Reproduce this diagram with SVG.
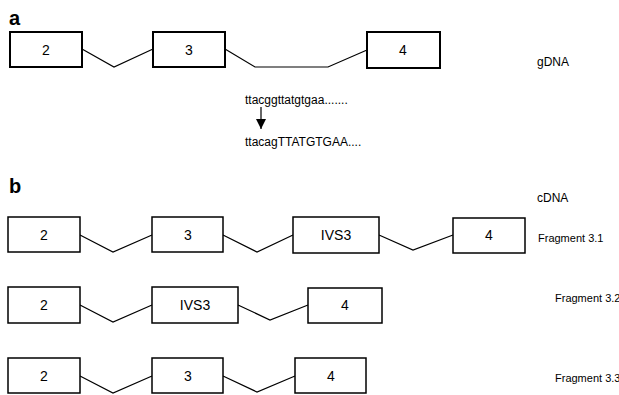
<svg xmlns="http://www.w3.org/2000/svg" width="619" height="395" viewBox="0 0 619 395">
<style>
.box{fill:#fff;stroke:#000;stroke-width:1.5}
.gbox{fill:#fff;stroke:#000;stroke-width:2}
.lbl{font-family:"Liberation Sans",Arial,sans-serif;font-size:14px;text-anchor:middle;fill:#000}
.sm{font-family:"Liberation Sans",Arial,sans-serif;font-size:11px;fill:#000}
.sq{font-family:"Liberation Sans",Arial,sans-serif;font-size:12px;fill:#000}
.pl{font-family:"Liberation Sans",Arial,sans-serif;font-size:20px;font-weight:bold;fill:#000}
.ln{fill:none;stroke:#000;stroke-width:1.2}
</style>
<defs>
<marker id="ah" markerWidth="10" markerHeight="10" refX="10" refY="5" orient="auto" markerUnits="userSpaceOnUse" viewBox="0 0 10 10">
<path d="M0,0 L10,5 L0,10 Z" fill="#000"/>
</marker>
</defs>
<rect width="619" height="395" fill="#fff"/>
<text class="pl" x="9" y="25">a</text>
<text class="pl" x="9" y="193">b</text>
<text class="sq" x="537" y="66">gDNA</text>
<text class="sq" x="537" y="202">cDNA</text>
<text class="sm" x="538" y="242">Fragment 3.1</text>
<text class="sm" x="555" y="302" font-size="10.5">Fragment 3.2</text>
<text class="sm" x="555" y="382" font-size="10.5">Fragment 3.3</text>
<text class="sq" x="245" y="104">ttacggttatgtgaa.......</text>
<text class="sq" x="245" y="146">ttacagTTATGTGAA....</text>
<g id="connectors">
<polyline class="ln" points="82,49 114,67 153,49"/>
<polyline class="ln" points="225,49 255,67 328,67 367,50"/>
<line class="ln" x1="261" y1="107" x2="261" y2="129" marker-end="url(#ah)"/>
<polyline class="ln" points="80,235 113,252 152,235"/>
<polyline class="ln" points="223,235 257,252 293,235"/>
<polyline class="ln" points="379,235 413,250 453,235"/>
<polyline class="ln" points="80,305 113,322 152,305"/>
<polyline class="ln" points="238,305 270,320 308,305"/>
<polyline class="ln" points="80,376 113,393 152,376"/>
<polyline class="ln" points="223,376 257,392 295,376"/>
</g>
<g id="a-ex2"><rect class="gbox" x="10" y="32" width="72" height="35"/><text class="lbl" x="46" y="55">2</text></g>
<g id="a-ex3"><rect class="gbox" x="153" y="32" width="72" height="35"/><text class="lbl" x="189" y="55">3</text></g>
<g id="a-ex4"><rect class="gbox" x="367" y="32" width="73" height="36"/><text class="lbl" x="403" y="55">4</text></g>
<g id="f1-ex2"><rect class="box" x="8" y="217" width="72" height="35"/><text class="lbl" x="44" y="240">2</text></g>
<g id="f1-ex3"><rect class="box" x="152" y="217" width="71" height="35"/><text class="lbl" x="188" y="240">3</text></g>
<g id="f1-ivs3"><rect class="box" x="293" y="217" width="86" height="36"/><text class="lbl" x="336" y="240">IVS3</text></g>
<g id="f1-ex4"><rect class="box" x="453" y="218" width="72" height="35"/><text class="lbl" x="489" y="240">4</text></g>
<g id="f2-ex2"><rect class="box" x="8" y="287" width="72" height="36"/><text class="lbl" x="44" y="310">2</text></g>
<g id="f2-ivs3"><rect class="box" x="152" y="287" width="86" height="36"/><text class="lbl" x="195" y="310">IVS3</text></g>
<g id="f2-ex4"><rect class="box" x="308" y="288" width="74" height="35"/><text class="lbl" x="345" y="310">4</text></g>
<g id="f3-ex2"><rect class="box" x="8" y="358" width="72" height="35"/><text class="lbl" x="44" y="381">2</text></g>
<g id="f3-ex3"><rect class="box" x="152" y="358" width="71" height="35"/><text class="lbl" x="188" y="381">3</text></g>
<g id="f3-ex4"><rect class="box" x="295" y="358" width="71" height="35"/><text class="lbl" x="331" y="381">4</text></g>
</svg>
